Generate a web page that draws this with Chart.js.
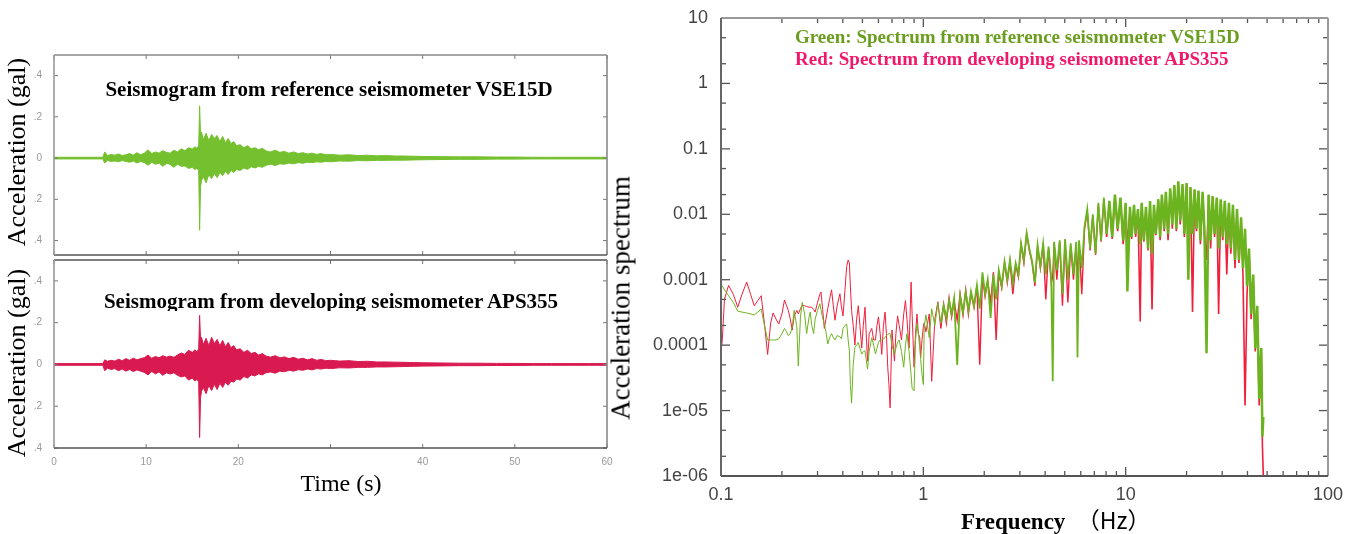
<!DOCTYPE html>
<html>
<head>
<meta charset="utf-8">
<title>Seismograms and acceleration spectra</title>
<script src="https://cdn.jsdelivr.net/npm/chart.js@4.4.1/dist/chart.umd.min.js"></script>
<style>
  html, body { margin: 0; padding: 0; background: #fff; }
  #page { position: relative; width: 1366px; height: 534px; overflow: hidden; background: #fff; }
  canvas { position: absolute; }
  .t { position: absolute; white-space: nowrap; line-height: 1; font-family: "Liberation Serif", "Times New Roman", serif; color: #000; }
  .rot { transform: translate(-50%, -50%) rotate(-90deg); }
  .b { font-weight: bold; }
</style>
</head>
<body>
<div id="page">
  <canvas id="vseChart" width="630" height="220" style="left:0;top:45px"></canvas>
  <canvas id="apsChart" width="630" height="235" style="left:0;top:250px"></canvas>
  <canvas id="specChart" width="726" height="534" style="left:640px;top:0"></canvas>

  <div class="t b" style="left:329px;top:79px;font-size:21px;transform:translateX(-50%)">Seismogram from reference seismometer VSE15D</div>
  <div style="position:absolute;left:0;top:280px;width:660px;height:31px;overflow:hidden">
    <div class="t b" style="left:331px;top:11px;font-size:21px;transform:translateX(-50%)">Seismogram from developing seismometer APS355</div>
  </div>
  <div class="t rot" style="left:17px;top:152px;font-size:26px">Acceleration (gal)</div>
  <div class="t rot" style="left:17px;top:363px;font-size:26px">Acceleration (gal)</div>
  <div class="t" style="left:341px;top:471px;font-size:24px;transform:translateX(-50%)">Time (s)</div>

  <div class="t rot" style="left:621px;top:298px;font-size:27px">Acceleration spectrum</div>
  <div class="t b" style="left:795px;top:27px;font-size:19px;color:#6b9e1f">Green: Spectrum from reference seismometer VSE15D</div>
  <div class="t b" style="left:795px;top:49px;font-size:19px;color:#f0186a">Red: Spectrum from developing seismometer APS355</div>
  <div class="t b" style="left:961px;top:508px;font-size:23px">Frequency<span style="font-family:'Noto Sans CJK JP';font-weight:normal">　（Hz）</span></div>
</div>

<script>
// seismograms: time (s) and upper / lower envelope of the trace (gal)
const timeS = [
  0, 5.3, 5.5, 5.8, 6.2, 6.6, 7.0, 7.4, 7.8, 8.2,
  8.6, 9.0, 9.4, 9.8, 10.2, 10.6, 11.0, 11.4, 11.8, 12.2,
  12.6, 13.0, 13.4, 13.8, 14.2, 14.6, 15.0, 15.3, 15.5, 15.7,
  15.8, 15.9, 16.0, 16.2, 16.5, 16.8, 17.1, 17.4, 17.7, 18.0,
  18.3, 18.6, 18.9, 19.2, 19.5, 19.8, 20.2, 20.6, 21.0, 21.4,
  21.8, 22.2, 22.6, 23.0, 23.5, 24.0, 24.5, 25.0, 25.5, 26.0,
  26.5, 27.0, 27.5, 28.0, 28.5, 29.0, 29.5, 30.0, 31, 32,
  33, 34, 35, 36, 37, 38, 39, 40, 42, 44,
  46, 48, 50, 52, 54, 56, 58, 60
];
const vseUpper = [
  0.004, 0.004, 0.030, 0.012, 0.018, 0.014, 0.020, 0.012, 0.016, 0.022,
  0.014, 0.026, 0.016, 0.024, 0.040, 0.022, 0.030, 0.024, 0.036, 0.028,
  0.024, 0.038, 0.030, 0.045, 0.036, 0.050, 0.044, 0.055, 0.048, 0.060,
  0.254, 0.110, 0.127, 0.090, 0.120, 0.085, 0.115, 0.095, 0.110, 0.080,
  0.105, 0.075, 0.095, 0.070, 0.080, 0.060, 0.065, 0.050, 0.060, 0.045,
  0.050, 0.040, 0.048, 0.035, 0.030, 0.038, 0.028, 0.032, 0.024, 0.030,
  0.022, 0.026, 0.020, 0.024, 0.018, 0.022, 0.016, 0.018, 0.014, 0.016,
  0.012, 0.014, 0.011, 0.012, 0.010, 0.010, 0.009, 0.008, 0.007, 0.006,
  0.006, 0.005, 0.005, 0.004, 0.004, 0.004, 0.004, 0.004
];
const vseLower = [
  -0.004, -0.004, -0.024, -0.012, -0.016, -0.014, -0.018, -0.012, -0.016, -0.020,
  -0.014, -0.024, -0.016, -0.022, -0.035, -0.020, -0.030, -0.024, -0.040, -0.026,
  -0.030, -0.045, -0.030, -0.040, -0.038, -0.050, -0.045, -0.055, -0.050, -0.060,
  -0.350, -0.140, -0.110, -0.090, -0.120, -0.080, -0.100, -0.075, -0.095, -0.070,
  -0.085, -0.065, -0.080, -0.060, -0.070, -0.055, -0.060, -0.048, -0.055, -0.042,
  -0.048, -0.040, -0.045, -0.035, -0.030, -0.036, -0.028, -0.030, -0.024, -0.028,
  -0.022, -0.025, -0.020, -0.022, -0.018, -0.020, -0.016, -0.018, -0.014, -0.015,
  -0.012, -0.013, -0.011, -0.011, -0.010, -0.010, -0.009, -0.008, -0.007, -0.006,
  -0.006, -0.005, -0.005, -0.004, -0.004, -0.004, -0.004, -0.004
];
const apsUpper = [
  0.004, 0.004, 0.022, 0.015, 0.020, 0.016, 0.025, 0.018, 0.028, 0.020,
  0.030, 0.022, 0.028, 0.032, 0.045, 0.030, 0.038, 0.032, 0.042, 0.035,
  0.040, 0.034, 0.045, 0.055, 0.048, 0.068, 0.058, 0.070, 0.060, 0.075,
  0.235, 0.120, 0.130, 0.095, 0.125, 0.090, 0.130, 0.100, 0.120, 0.090,
  0.115, 0.085, 0.105, 0.080, 0.090, 0.070, 0.075, 0.058, 0.068, 0.052,
  0.058, 0.045, 0.052, 0.040, 0.035, 0.042, 0.032, 0.036, 0.028, 0.034,
  0.025, 0.030, 0.022, 0.028, 0.020, 0.024, 0.018, 0.020, 0.016, 0.018,
  0.014, 0.015, 0.012, 0.012, 0.011, 0.010, 0.009, 0.008, 0.007, 0.006,
  0.006, 0.005, 0.005, 0.004, 0.004, 0.004, 0.004, 0.004
];
const apsLower = [
  -0.004, -0.004, -0.030, -0.018, -0.024, -0.020, -0.030, -0.022, -0.032, -0.024,
  -0.034, -0.026, -0.032, -0.038, -0.050, -0.034, -0.045, -0.036, -0.052, -0.040,
  -0.046, -0.040, -0.052, -0.060, -0.055, -0.075, -0.065, -0.080, -0.070, -0.085,
  -0.350, -0.160, -0.130, -0.110, -0.140, -0.100, -0.125, -0.095, -0.120, -0.090,
  -0.110, -0.085, -0.100, -0.080, -0.085, -0.070, -0.075, -0.058, -0.065, -0.050,
  -0.055, -0.045, -0.050, -0.040, -0.036, -0.042, -0.032, -0.035, -0.028, -0.032,
  -0.025, -0.028, -0.022, -0.026, -0.020, -0.022, -0.018, -0.020, -0.016, -0.017,
  -0.014, -0.014, -0.012, -0.012, -0.011, -0.010, -0.009, -0.008, -0.007, -0.006,
  -0.006, -0.005, -0.005, -0.004, -0.004, -0.004, -0.004, -0.004
];
const accTicks = [-0.4, -0.2, 0, 0.2, 0.4];
const accTickLabels = ['.4', '.2', '0', '.2', '.4'];
const timeTicks = [0, 10, 20, 30, 40, 50, 60];
const timeTickLabels = ['0', '10', '20', '', '40', '50', '60'];

// acceleration spectra
const freqHz = [
  0.100, 0.1015, 0.104, 0.109, 0.115, 0.121, 0.127, 0.134, 0.140, 0.146,
  0.152, 0.158, 0.164, 0.170, 0.176, 0.181, 0.187, 0.193, 0.200, 0.206,
  0.211, 0.215, 0.220, 0.225, 0.230, 0.237, 0.241, 0.247, 0.252, 0.259,
  0.265, 0.272, 0.276, 0.281, 0.287, 0.292, 0.300, 0.308, 0.312, 0.318,
  0.324, 0.330, 0.337, 0.344, 0.352, 0.359, 0.366, 0.375, 0.387, 0.394,
  0.401, 0.410, 0.418, 0.425, 0.431, 0.436, 0.442, 0.450, 0.459, 0.468,
  0.477, 0.486, 0.496, 0.505, 0.515, 0.522, 0.530, 0.540, 0.556, 0.568,
  0.580, 0.590, 0.600, 0.612, 0.623, 0.635, 0.647, 0.657, 0.667, 0.676,
  0.685, 0.700, 0.720, 0.732, 0.746, 0.760, 0.780, 0.800, 0.816, 0.830,
  0.850, 0.870, 0.880, 0.900, 0.915, 0.930, 0.945, 0.960, 0.970, 0.985,
  1.000, 1.010,
  1.03, 1.07, 1.10, 1.14, 1.18, 1.22, 1.26, 1.30, 1.34, 1.38,
  1.42, 1.47, 1.52, 1.57, 1.62, 1.67, 1.72, 1.78, 1.84, 1.90,
  1.96, 2.02, 2.08, 2.15, 2.22, 2.29, 2.36, 2.44, 2.52, 2.60,
  2.68, 2.77, 2.86, 2.95, 3.04, 3.14, 3.24, 3.34, 3.45, 3.56,
  3.67, 3.79, 3.91, 4.03, 4.16, 4.29, 4.36, 4.43, 4.57, 4.72,
  4.87, 5.02, 5.18, 5.35, 5.52, 5.70, 5.78, 5.88, 6.07, 6.26,
  6.46, 6.67, 6.88, 7.10, 7.33, 7.56, 7.80, 8.05, 8.31, 8.58,
  8.85, 9.13, 9.42, 9.72,
  10.0, 10.2, 10.5, 10.7, 11.0, 11.2, 11.5, 11.8, 12.0, 12.3,
  12.6, 12.9, 13.2, 13.5, 13.8, 14.1, 14.5, 14.8, 15.1, 15.5,
  15.8, 16.2, 16.6, 17.0, 17.4, 17.8, 18.2, 18.6, 19.1, 19.5,
  20.0, 20.4, 20.9, 21.4, 21.9, 22.4, 22.9, 23.4, 24.0, 24.5,
  25.1, 25.7, 26.3, 26.9, 27.5, 28.2, 28.8, 29.5, 30.2, 30.9,
  31.6, 32.4, 33.1, 33.9, 34.7, 35.5, 36.3, 37.2, 38.0, 38.9,
  39.8, 40.7, 41.7, 42.7, 43.7, 44.7, 45.7, 46.8, 47.4, 47.9
];
const vseSpectrum = [
  8.2e-4, 8.0e-4, 7.0e-4, 5.7e-4, 4.5e-4, 3.3e-4, 3.2e-4, 3.1e-4, 3.0e-4, 2.9e-4,
  3.2e-4, 3.6e-4, 2.0e-4, 1.2e-4, 1.2e-4, 1.2e-4, 1.2e-4, 1.25e-4, 1.5e-4, 1.8e-4,
  1.6e-4, 1.4e-4, 1.5e-4, 1.9e-4, 3.4e-4, 1.9e-4, 4.8e-5, 2.7e-4, 4.5e-4, 3.0e-4,
  1.5e-4, 2.6e-4, 3.2e-4, 2.0e-4, 1.5e-4, 2.5e-4, 3.4e-4, 4.3e-4, 3.5e-4, 2.6e-4,
  2.1e-4, 1.6e-4, 1.04e-4, 1.3e-4, 1.5e-4, 1.3e-4, 1.2e-4, 1.4e-4, 1.35e-4, 1.25e-4,
  1.8e-4, 2.0e-4, 2.1e-4, 1.2e-4, 8.2e-5, 2.5e-5, 1.3e-5, 5.0e-5, 9.3e-5, 1.0e-4,
  1.1e-4, 9.0e-5, 7.3e-5, 8.0e-5, 8.2e-5, 6.0e-5, 4.3e-5, 8.0e-5, 1.3e-4, 1.0e-4,
  7.3e-5, 9.0e-5, 1.1e-4, 1.2e-4, 1.2e-4, 1.25e-4, 1.3e-4, 1.4e-4, 1.45e-4, 1.5e-4,
  1.5e-4, 1.0e-4, 7.3e-5, 9.0e-5, 1.1e-4, 1.2e-4, 8.0e-5, 4.6e-5, 1.0e-4, 1.5e-4,
  8.0e-5, 3.5e-5, 2.2e-5, 2.0e-5, 1.2e-4, 2.1e-4, 1.5e-4, 9.2e-5, 6.0e-5, 3.6e-5,
  2.5e-5, 1.9e-4,
  2.9e-4, 1.3e-4, 3.6e-4, 2.0e-4, 4.4e-4, 2.2e-4, 4.0e-4, 2.6e-4, 4.8e-4, 3.0e-4,
  5.2e-4, 5.0e-5, 5.6e-4, 3.2e-4, 6.4e-4, 3.4e-4, 6.6e-4, 4.0e-4, 8.3e-4, 3.6e-4,
  1.3e-3, 6.0e-4, 1.0e-3, 2.6e-4, 1.2e-3, 5.0e-4, 1.4e-3, 8.0e-4, 1.9e-3, 1.0e-3,
  2.0e-3, 9.0e-4, 1.8e-3, 1.2e-3, 3.6e-3, 2.0e-3, 5.2e-3, 3.0e-3, 1.9e-3, 9.0e-4,
  3.4e-3, 1.6e-3, 3.6e-3, 1.2e-3, 3.2e-3, 1.0e-3, 2.8e-5, 3.8e-3, 1.4e-3, 4.0e-3,
  6.0e-4, 4.2e-3, 1.0e-3, 3.6e-3, 1.2e-3, 3.8e-3, 6.5e-5, 4.0e-3, 1.5e-3, 6.5e-3,
  1.2e-2, 3.0e-3, 1.0e-2, 2.5e-3, 1.5e-2, 4.0e-3, 1.8e-2, 5.0e-3, 1.6e-2, 4.5e-3,
  2.0e-2, 6.0e-3, 1.8e-2, 4.0e-3,
  1.5e-2, 6.6e-4, 1.3e-2, 4.5e-3, 1.4e-2, 5.0e-3, 1.2e-2, 3.5e-3, 1.5e-2, 4.0e-3,
  1.3e-2, 3.0e-3, 1.6e-2, 2.5e-3, 1.4e-2, 5.0e-3, 1.7e-2, 4.5e-3, 2.0e-2, 6.0e-3,
  2.2e-2, 5.0e-3, 2.5e-2, 7.0e-3, 2.8e-2, 6.0e-3, 3.2e-2, 8.0e-3, 2.9e-2, 5.0e-3,
  3.0e-2, 1.0e-3, 2.6e-2, 5.0e-3, 2.4e-2, 6.0e-3, 2.3e-2, 4.0e-3, 2.2e-2, 6.0e-3,
  7.5e-5, 2.0e-2, 4.0e-3, 1.9e-2, 5.0e-3, 1.8e-2, 3.0e-3, 1.7e-2, 4.5e-3, 1.6e-2,
  3.5e-3, 1.5e-2, 3.0e-3, 1.4e-2, 2.0e-3, 1.2e-2, 2.0e-3, 9.0e-3, 1.5e-3, 6.0e-3,
  8.0e-4, 3.0e-3, 3.0e-4, 1.2e-3, 9.0e-5, 4.0e-4, 1.5e-5, 9.0e-5, 4.0e-6, 8.0e-6
];
const apsSpectrum = [
  7.7e-5, 1.2e-4, 5.0e-4, 8.2e-4, 6.0e-4, 3.8e-4, 6.0e-4, 9.2e-4, 6.0e-4, 4.0e-4,
  4.8e-4, 5.7e-4, 2.1e-4, 7.2e-5, 2.2e-4, 3.1e-4, 2.5e-4, 2.1e-4, 3.0e-4, 4.9e-4,
  4.0e-4, 3.4e-4, 2.5e-4, 1.7e-4, 2.8e-4, 3.4e-4, 3.0e-4, 3.6e-4, 4.1e-4, 4.0e-4,
  3.9e-4, 3.8e-4, 3.8e-4, 3.8e-4, 3.5e-4, 3.2e-4, 4.5e-4, 6.0e-4, 6.5e-4, 3.5e-4,
  1.8e-4, 2.5e-4, 3.6e-4, 5.0e-4, 7.0e-4, 4.0e-4, 2.4e-4, 4.0e-4, 6.1e-4, 3.8e-4,
  2.8e-4, 7.0e-4, 1.6e-3, 2.0e-3, 1.8e-3, 8.0e-4, 3.4e-4, 2.0e-4, 1.0e-4, 2.5e-4,
  4.0e-4, 2.0e-4, 9.0e-5, 2.0e-4, 3.8e-4, 1.5e-4, 5.7e-5, 1.5e-4, 1.8e-4, 1.2e-4,
  1.2e-4, 2.0e-4, 2.7e-4, 1.5e-4, 7.2e-5, 2.0e-4, 3.2e-4, 1.5e-4, 4.6e-5, 2.5e-5,
  1.1e-5, 1.7e-4, 5.7e-5, 1.5e-4, 2.8e-4, 2.0e-4, 1.2e-4, 3.0e-4, 4.8e-4, 2.5e-4,
  9.0e-5, 9.2e-4, 3.0e-4, 4.6e-5, 1.5e-4, 3.0e-4, 1.5e-4, 1.3e-4, 6.4e-5, 1.2e-4,
  1.9e-4, 2.2e-4,
  1.6e-4, 3.0e-4, 2.8e-5, 2.5e-4, 4.6e-4, 1.8e-4, 4.2e-4, 2.2e-4, 5.2e-4, 2.7e-4,
  4.8e-4, 2.4e-4, 6.0e-4, 2.9e-4, 7.0e-4, 3.0e-4, 6.2e-4, 3.8e-4, 8.0e-4, 5.0e-5,
  1.1e-3, 5.6e-4, 9.6e-4, 4.5e-4, 1.3e-3, 1.2e-4, 1.3e-3, 7.5e-4, 1.8e-3, 9.0e-4,
  1.9e-3, 6.0e-4, 1.7e-3, 1.1e-3, 3.4e-3, 1.8e-3, 5.0e-3, 2.8e-3, 1.8e-3, 8.0e-4,
  3.2e-3, 1.5e-3, 3.5e-3, 5.0e-4, 3.0e-3, 9.0e-4, 1.1e-3, 3.6e-3, 1.0e-3, 3.8e-3,
  4.0e-4, 4.0e-3, 4.5e-4, 3.4e-3, 1.0e-3, 3.5e-3, 9.0e-4, 3.8e-3, 6.0e-4, 6.0e-3,
  1.1e-2, 2.8e-3, 9.5e-3, 2.4e-3, 1.4e-2, 3.8e-3, 1.7e-2, 4.5e-3, 1.5e-2, 4.2e-3,
  1.9e-2, 5.5e-3, 1.7e-2, 3.5e-3,
  1.4e-2, 3.0e-3, 1.2e-2, 4.2e-3, 1.3e-2, 4.5e-3, 1.1e-2, 2.3e-4, 1.4e-2, 3.8e-3,
  1.2e-2, 2.8e-3, 1.5e-2, 3.5e-4, 1.3e-2, 4.8e-3, 1.6e-2, 4.0e-3, 1.9e-2, 5.5e-3,
  2.1e-2, 4.0e-3, 2.4e-2, 6.0e-3, 2.6e-2, 5.5e-3, 3.0e-2, 7.0e-3, 2.7e-2, 4.5e-3,
  2.8e-2, 3.0e-3, 2.5e-2, 3.2e-4, 2.3e-2, 5.5e-3, 2.2e-2, 3.5e-3, 2.0e-2, 5.0e-3,
  2.0e-3, 1.9e-2, 3.0e-3, 1.8e-2, 4.5e-3, 1.7e-2, 3.0e-4, 1.6e-2, 4.0e-3, 1.5e-2,
  1.2e-3, 1.4e-2, 2.5e-3, 1.3e-2, 1.5e-3, 1.1e-2, 1.8e-3, 8.5e-3, 1.2e-3, 1.2e-5,
  6.0e-4, 2.8e-3, 2.5e-4, 1.0e-3, 8.0e-5, 3.5e-4, 1.2e-5, 8.0e-5, 3.0e-6, 1.0e-6
];
const specXTicks = [0.1, 1, 10, 100];
const specXLabels = ['0.1', '1', '10', '100'];
const specXMinor = [0.2, 0.3, 0.4, 0.5, 0.6, 0.7, 0.8, 0.9, 2, 3, 4, 5, 6, 7, 8, 9, 20, 30, 40, 50, 60, 70, 80, 90];
const specYTicks = [1e-6, 1e-5, 1e-4, 1e-3, 0.01, 0.1, 1, 10];
const specYLabels = ['1e-06', '1e-05', '0.0001', '0.001', '0.01', '0.1', '1', '10'];
const specYMinor = [2e-6, 5e-6, 2e-5, 5e-5, 2e-4, 5e-4, 0.002, 0.005, 0.02, 0.05, 0.2, 0.5, 2, 5];

Chart.defaults.font.family = '"Liberation Sans", Arial, sans-serif';

// box round the plot area with inward tick marks on all four sides
function frameTicks(cfg) {
  return {
    id: 'frameTicks',
    afterDatasetsDraw(chart) {
      const { ctx, chartArea: a, scales } = chart;
      const line = (x1, y1, x2, y2) => { ctx.beginPath(); ctx.moveTo(x1, y1); ctx.lineTo(x2, y2); ctx.stroke(); };
      ctx.save();
      ctx.strokeStyle = cfg.tickColor;
      ctx.lineWidth = cfg.tickWidth;
      const xMarks = (vals, len) => vals.forEach(v => {
        const px = scales.x.getPixelForValue(v);
        line(px, a.bottom, px, a.bottom - len);
        line(px, a.top, px, a.top + len);
      });
      const yMarks = (vals, len) => vals.forEach(v => {
        const py = scales.y.getPixelForValue(v);
        line(a.left, py, a.left + len, py);
        line(a.right, py, a.right - len, py);
      });
      xMarks(cfg.xMajor, cfg.majorLen);
      yMarks(cfg.yMajor, cfg.majorLen);
      xMarks(cfg.xMinor || [], cfg.minorLen);
      yMarks(cfg.yMinor || [], cfg.minorLen);

      ctx.lineWidth = cfg.frameWidth;
      ctx.strokeStyle = cfg.sides.top;    line(a.left, a.top, a.right, a.top);
      ctx.strokeStyle = cfg.sides.right;  line(a.right, a.top, a.right, a.bottom);
      ctx.strokeStyle = cfg.sides.bottom; line(a.left, a.bottom, a.right, a.bottom);
      ctx.strokeStyle = cfg.sides.left;   line(a.left, a.top, a.left, a.bottom);
      ctx.restore();
    }
  };
}

function seismoChart(id, upper, lower, color, yMin, yMax, showX, padding, sides) {
  const pts = arr => timeS.map((t, i) => ({ x: t, y: arr[i] }));
  return new Chart(document.getElementById(id), {
    type: 'line',
    data: {
      datasets: [
        { data: pts(upper), borderColor: color, borderWidth: 1, pointRadius: 0, tension: 0, fill: false },
        { data: pts(lower), borderColor: color, backgroundColor: color, borderWidth: 1, pointRadius: 0, tension: 0, fill: '-1' }
      ]
    },
    options: {
      responsive: false,
      animation: false,
      events: [],
      layout: { padding },
      plugins: { legend: { display: false }, tooltip: { enabled: false } },
      scales: {
        x: {
          type: 'linear', min: 0, max: 60, display: showX,
          grid: { display: false }, border: { display: false },
          afterBuildTicks: s => { s.ticks = timeTicks.map(v => ({ value: v })); },
          afterFit: s => { s.height = showX ? 30 : 0; },
          ticks: { padding: 0, autoSkip: false, maxRotation: 0, color: '#999', font: { size: 10 },
                   callback: (v, i) => timeTickLabels[i] }
        },
        y: {
          type: 'linear', min: yMin, max: yMax,
          grid: { display: false }, border: { display: false },
          afterBuildTicks: s => { s.ticks = accTicks.map(v => ({ value: v })); },
          afterFit: s => { s.width = 54; },
          ticks: { padding: 4, autoSkip: false, color: '#999', font: { size: 10 },
                   callback: (v, i) => accTickLabels[i] }
        }
      }
    },
    plugins: [frameTicks({
      sides, frameWidth: 1.6, tickColor: '#777', tickWidth: 1,
      xMajor: timeTicks, yMajor: accTicks, majorLen: 4, minorLen: 0
    })]
  });
}

seismoChart('vseChart', vseUpper, vseLower, '#74c02e', -0.47, 0.5, false,
  { top: 10, right: 23, bottom: 5, left: 0 },
  { top: '#888', right: '#888', bottom: '#555', left: '#999' });
seismoChart('apsChart', apsUpper, apsLower, '#d91a50', -0.4, 0.5, true,
  { top: 10, right: 23, bottom: 7, left: 0 },
  { top: '#555', right: '#888', bottom: '#555', left: '#999' });

// the trace is drawn thicker where the spectrum is dense
const denseWidth = (mid, high) => ctx => {
  const f = ctx.p0.parsed.x;
  return f >= 8 ? high : (f >= 1.2 ? mid : 1);
};
const specPts = arr => freqHz.map((f, i) => ({ x: f, y: arr[i] }));
new Chart(document.getElementById('specChart'), {
  type: 'line',
  data: {
    datasets: [
      { label: 'VSE15D', data: specPts(vseSpectrum), borderColor: '#6cb41f', borderWidth: 1, pointRadius: 0, tension: 0, fill: false, order: 0,
        segment: { borderWidth: denseWidth(1.8, 2.5) } },
      { label: 'APS355', data: specPts(apsSpectrum), borderColor: '#f01f3c', borderWidth: 1, pointRadius: 0, tension: 0, fill: false, order: 1,
        segment: { borderWidth: denseWidth(1.4, 1.6) } }
    ]
  },
  options: {
    responsive: false,
    animation: false,
    events: [],
    layout: { padding: { top: 18, right: 38, bottom: 28, left: 0 } },
    plugins: { legend: { display: false }, tooltip: { enabled: false } },
    scales: {
      x: {
        type: 'logarithmic', min: 0.1, max: 100,
        grid: { display: false }, border: { display: false },
        afterBuildTicks: s => { s.ticks = specXTicks.map(v => ({ value: v })); },
        afterFit: s => { s.height = 30; },
        ticks: { padding: 0, autoSkip: false, maxRotation: 0, color: '#444', font: { size: 18 },
                 callback: (v, i) => specXLabels[i] }
      },
      y: {
        type: 'logarithmic', min: 1e-6, max: 10,
        grid: { display: false }, border: { display: false },
        afterBuildTicks: s => { s.ticks = specYTicks.map(v => ({ value: v })); },
        afterFit: s => { s.width = 81; },
        ticks: { padding: 5, autoSkip: false, color: '#444', font: { size: 18 },
                 callback: (v, i) => specYLabels[i] }
      }
    }
  },
  plugins: [frameTicks({
    sides: { top: '#999', right: '#999', bottom: '#555', left: '#666' },
    frameWidth: 2, tickColor: '#555', tickWidth: 1.3,
    xMajor: specXTicks, xMinor: specXMinor, yMajor: specYTicks, yMinor: specYMinor,
    majorLen: 9, minorLen: 5
  })]
});
</script>
</body>
</html>
